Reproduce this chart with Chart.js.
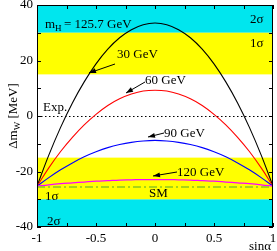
<!DOCTYPE html>
<html>
<head>
<meta charset="utf-8">
<script src="https://cdn.jsdelivr.net/npm/chart.js@4.4.0/dist/chart.umd.min.js"></script>
<style>
  html, body { margin: 0; padding: 0; background: #fff; }
  #c { display: block; }
</style>
</head>
<body>
<canvas id="c" width="277" height="251"></canvas>
<script>
const sinAlpha = [-1, -0.9, -0.8, -0.7, -0.6, -0.5, -0.4, -0.3, -0.2, -0.1, 0, 0.1, 0.2, 0.3, 0.4, 0.5, 0.6, 0.7, 0.8, 0.9, 1];
const mw30 = [-25.3, -14.1, -4.1, 4.7, 12.3, 18.8, 24.1, 28.2, 31.1, 32.9, 33.5, 32.9, 31.1, 28.2, 24.1, 18.8, 12.3, 4.7, -4.1, -14.1, -25.3];
const mw60 = [-25.3, -18.7, -12.8, -7.7, -3.2, 0.6, 3.8, 6.2, 7.9, 9.0, 9.3, 9.0, 7.9, 6.2, 3.8, 0.6, -3.2, -7.7, -12.8, -18.7, -25.3];
const mw90 = [-25.3, -22.2, -19.4, -16.9, -14.7, -12.9, -11.4, -10.3, -9.5, -9.0, -8.8, -9.0, -9.5, -10.3, -11.4, -12.9, -14.7, -16.9, -19.4, -22.2, -25.3];
const mw120 = [-25.3, -24.8, -24.4, -24.1, -23.8, -23.5, -23.3, -23.1, -23.0, -22.9, -22.9, -22.9, -23.0, -23.1, -23.3, -23.5, -23.8, -24.1, -24.4, -24.8, -25.3];
const smValue = -25.6;
const expValue = 0;
const band1 = [15, 30];
const band2 = [30, 40];
const xTicks = [-1, -0.5, 0, 0.5, 1];
const yTicks = [-40, -20, 0, 20, 40];

const serif = "'Liberation Serif', 'DejaVu Serif', serif";

function pts(ys) {
    return sinAlpha.map((x, i) => ({ x: x, y: ys[i] }));
}

function arrow(ctx, x1, y1, x2, y2) {
    ctx.beginPath();
    ctx.moveTo(x1, y1);
    ctx.lineTo(x2, y2);
    ctx.stroke();
    const a = Math.atan2(y2 - y1, x2 - x1);
    const L = 7, W = 2.5;
    ctx.beginPath();
    ctx.moveTo(x2, y2);
    ctx.lineTo(x2 - L * Math.cos(a) + W * Math.sin(a), y2 - L * Math.sin(a) - W * Math.cos(a));
    ctx.lineTo(x2 - L * Math.cos(a) - W * Math.sin(a), y2 - L * Math.sin(a) + W * Math.cos(a));
    ctx.closePath();
    ctx.fill();
}

const decor = {
    id: "decor",
    beforeDatasetsDraw(chart) {
        const { ctx, chartArea: a, scales: { x, y } } = chart;
        ctx.save();
        // sigma bands, top and bottom
        ctx.fillStyle = "#00e6ee";
        ctx.fillRect(a.left, y.getPixelForValue(band2[1]), a.width, y.getPixelForValue(band2[0]) - y.getPixelForValue(band2[1]));
        ctx.fillRect(a.left, y.getPixelForValue(-band2[0]), a.width, y.getPixelForValue(-band2[1]) - y.getPixelForValue(-band2[0]));
        ctx.fillStyle = "#ffff00";
        ctx.fillRect(a.left, y.getPixelForValue(band1[1]), a.width, y.getPixelForValue(band1[0]) - y.getPixelForValue(band1[1]));
        ctx.fillRect(a.left, y.getPixelForValue(-band1[0]), a.width, y.getPixelForValue(-band1[1]) - y.getPixelForValue(-band1[0]));
        // experimental central value
        ctx.strokeStyle = "#000";
        ctx.lineWidth = 1;
        ctx.setLineDash([1.5, 2.5]);
        const y0 = Math.round(y.getPixelForValue(expValue)) + 0.5;
        ctx.beginPath();
        ctx.moveTo(a.left, y0);
        ctx.lineTo(a.right, y0);
        ctx.stroke();
        ctx.restore();
    },
    afterDatasetsDraw(chart) {
        const { ctx, chartArea: a, scales: { x, y } } = chart;
        ctx.save();
        ctx.strokeStyle = "#000";
        ctx.fillStyle = "#000";
        ctx.lineWidth = 1;
        ctx.strokeRect(a.left + 0.5, a.top + 0.5, a.width - 1, a.height - 1);

        // inside ticks on all four sides
        ctx.beginPath();
        for (let v = -1; v <= 1.001; v += 0.25) {
            const px = Math.round(x.getPixelForValue(v)) + 0.5;
            ctx.moveTo(px, a.bottom); ctx.lineTo(px, a.bottom - 4);
            ctx.moveTo(px, a.top); ctx.lineTo(px, a.top + 4);
        }
        for (let v = -40; v <= 40; v += 10) {
            const py = Math.round(y.getPixelForValue(v)) + 0.5;
            ctx.moveTo(a.left, py); ctx.lineTo(a.left + 4, py);
            ctx.moveTo(a.right, py); ctx.lineTo(a.right - 4, py);
        }
        ctx.stroke();

        // texts
        ctx.font = "13px " + serif;
        ctx.textBaseline = "alphabetic";
        ctx.textAlign = "left";
        ctx.fillText("m", 45, 28);
        ctx.font = "9px " + serif;
        ctx.fillText("H", 55, 31);
        ctx.font = "13px " + serif;
        ctx.fillText("= 125.7 GeV", 64, 28);

        ctx.fillText("2\u03c3", 250, 23);
        ctx.fillText("1\u03c3", 250, 47);
        ctx.fillText("30 GeV", 117, 58);
        ctx.fillText("60 GeV", 145, 84);
        ctx.fillText("Exp.", 43, 111);
        ctx.fillText("90 GeV", 164, 137);
        ctx.fillText("120 GeV", 177, 176);
        ctx.fillText("SM", 149, 197);
        ctx.fillText("1\u03c3", 45, 200);
        ctx.fillText("2\u03c3", 47, 225);

        ctx.lineWidth = 1;
        arrow(ctx, 115, 64, 89, 73);
        arrow(ctx, 145, 82, 126, 93);
        arrow(ctx, 164, 133, 148, 137);
        arrow(ctx, 177, 172, 153, 176);

        // axis titles
        ctx.textAlign = "right";
        ctx.fillText("sin\u03b1", 271, 250);
        ctx.save();
        ctx.translate(17, 116);
        ctx.rotate(-Math.PI / 2);
        ctx.textAlign = "left";
        const t1 = "\u0394m";
        ctx.font = "13px " + serif;
        const w1 = ctx.measureText(t1).width;
        ctx.font = "9px " + serif;
        const w2 = ctx.measureText("W").width;
        ctx.font = "13px " + serif;
        const t3 = " [MeV]";
        const w3 = ctx.measureText(t3).width;
        let sx = -(w1 + w2 + w3) / 2;
        ctx.fillText(t1, sx, 0);
        ctx.font = "9px " + serif;
        ctx.fillText("W", sx + w1, 3);
        ctx.font = "13px " + serif;
        ctx.fillText(t3, sx + w1 + w2, 0);
        ctx.restore();
        ctx.restore();
    }
};

const line = (data, color, width) => ({
    data: pts(data),
    borderColor: color,
    borderWidth: width,
    pointRadius: 0,
    tension: 0.4,
    fill: false
});

new Chart(document.getElementById("c"), {
    type: "line",
    data: {
        datasets: [
            {
                data: [{ x: -1, y: smValue }, { x: 1, y: smValue }],
                borderColor: "#8cc81e",
                borderWidth: 1.5,
                borderDash: [8, 3, 2, 3],
                pointRadius: 0,
                fill: false
            },
            line(mw120, "#ff00ff", 1.3),
            line(mw90, "#0000ff", 1.1),
            line(mw60, "#ff0000", 1.1),
            line(mw30, "#000000", 1.1)
        ]
    },
    options: {
        responsive: false,
        animation: false,
        devicePixelRatio: 1,
        layout: { padding: { top: 5, right: 4, left: 0, bottom: 0 } },
        plugins: { legend: { display: false }, tooltip: { enabled: false } },
        scales: {
            x: {
                type: "linear",
                min: -1,
                max: 1,
                afterBuildTicks: s => { s.ticks = xTicks.map(v => ({ value: v })); },
                afterFit: s => { s.height = 24; s.paddingLeft = 0; s.paddingRight = 0; },
                grid: { display: false, drawTicks: false },
                border: { display: false },
                ticks: {
                    padding: 4,
                    color: "#000",
                    font: { family: serif, size: 13 },
                    maxRotation: 0,
                    callback: v => String(v)
                }
            },
            y: {
                min: -40,
                max: 40,
                afterBuildTicks: s => { s.ticks = yTicks.map(v => ({ value: v })); },
                afterFit: s => { s.width = 37; s.paddingTop = 0; s.paddingBottom = 0; },
                grid: { display: false, drawTicks: false },
                border: { display: false },
                ticks: {
                    padding: 4,
                    color: "#000",
                    font: { family: serif, size: 13 },
                    callback: v => String(v)
                }
            }
        }
    },
    plugins: [decor]
});
</script>
</body>
</html>
